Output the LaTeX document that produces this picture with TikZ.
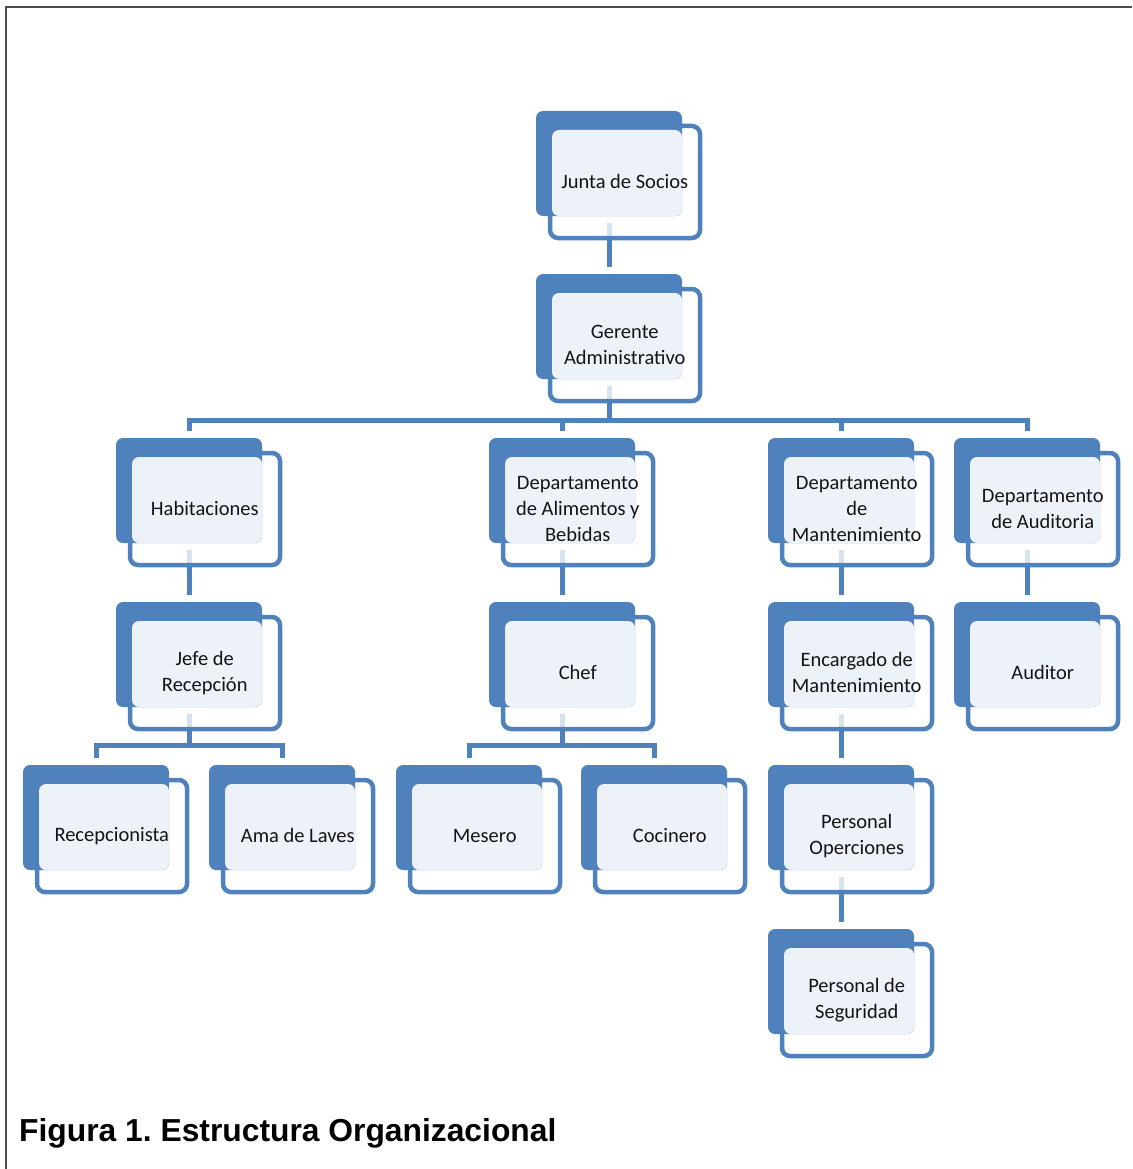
\documentclass[tikz,border=0pt]{standalone}
\usepackage{fontspec}
\setmainfont{Carlito}
\newfontfamily\captionfont{Liberation Sans}
\usepackage{tikz}
\usetikzlibrary{backgrounds}
\definecolor{orgblue}{RGB}{79,129,189}
\definecolor{orglight}{RGB}{237,242,249}
\definecolor{orgtext}{RGB}{20,20,20}

\tikzset{
  frontbox/.style={draw=orgblue, line width=4.5pt, fill=white, fill opacity=0.78,
    rounded corners=8pt, minimum width=150pt, minimum height=112pt, inner sep=0pt},
  backbox/.style={fill=orgblue, rounded corners=7pt, minimum width=146pt,
    minimum height=105pt, inner sep=0pt, outer sep=7pt},
  textrect/.style={fill=orglight, rounded corners=7pt, minimum width=130pt,
    minimum height=86pt, inner sep=0pt},
  boxtext/.style={text=orgtext, font=\fontsize{20.5}{26}\selectfont, align=center, inner sep=0pt},
  conn/.style={draw=orgblue, line width=5pt}
}

% name, centre x, centre y (of the back box), text
\newcommand{\orgbox}[4]{%
  \node[frontbox] (#1-f) at (#2+16,#3+18.5) {};
  \node[backbox] (#1) at (#2,#3) {};
  \node[textrect] (#1-r) at (#2+8,#3+9.5) {};
  \node[boxtext] (#1-t) at (#2+15.75,#3+18.25) {#4};
}

\begin{document}
\begin{tikzpicture}[x=1pt, y=-1pt]
  \useasboundingbox (0,0) rectangle (1132,1169);

  % frame
  \draw[gray!60!black, line width=1.5pt] (1132,7) -- (6,7) -- (6,1169);

  % level 1 and 2
  \orgbox{junta}{609}{163.5}{Junta de Socios}
  \orgbox{gerente}{609}{326.5}{Gerente\\Administrativo}

  % departments
  \orgbox{hab}{189}{490.5}{Habitaciones}
  \orgbox{alim}{562}{490.5}{Departamento\\de Alimentos y\\Bebidas}
  \orgbox{mant}{841}{490.5}{Departamento\\de\\Mantenimiento}
  \orgbox{aud}{1027}{490.5}{Departamento\\de Auditoria}

  % heads
  \orgbox{jefe}{189}{654.5}{Jefe de\\Recepción}
  \orgbox{chef}{562}{654.5}{Chef}
  \orgbox{encargado}{841}{654.5}{Encargado de\\Mantenimiento}
  \orgbox{auditor}{1027}{654.5}{Auditor}

  % staff
  \orgbox{recep}{96}{817.5}{Recepcionista}
  \orgbox{ama}{282}{817.5}{Ama de Laves}
  \orgbox{mesero}{469}{817.5}{Mesero}
  \orgbox{cocinero}{654}{817.5}{Cocinero}
  \orgbox{operac}{841}{817.5}{Personal\\Operciones}
  \orgbox{segur}{841}{981.5}{Personal de\\Seguridad}

  % connectors
  \begin{scope}[on background layer]
    \draw[conn] (junta.south) -- (gerente.north);
    \foreach \dept in {hab, alim, mant, aud}
      \draw[conn] (gerente.south) -- ++(0,34) -| (\dept.north);
    \draw[conn] (hab.south) -- (jefe.north);
    \draw[conn] (alim.south) -- (chef.north);
    \draw[conn] (mant.south) -- (encargado.north);
    \draw[conn] (aud.south) -- (auditor.north);
    \foreach \staff in {recep, ama}
      \draw[conn] (jefe.south) -- ++(0,31) -| (\staff.north);
    \foreach \staff in {mesero, cocinero}
      \draw[conn] (chef.south) -- ++(0,31) -| (\staff.north);
    \draw[conn] (encargado.south) -- (operac.north);
    \draw[conn] (operac.south) -- (segur.north);
  \end{scope}

  % caption
  \node[anchor=base west, inner sep=0pt, font=\captionfont\bfseries\fontsize{31.8}{38}\selectfont]
    (caption) at (19,1141) {Figura 1.\ Estructura Organizacional};
\end{tikzpicture}
\end{document}
